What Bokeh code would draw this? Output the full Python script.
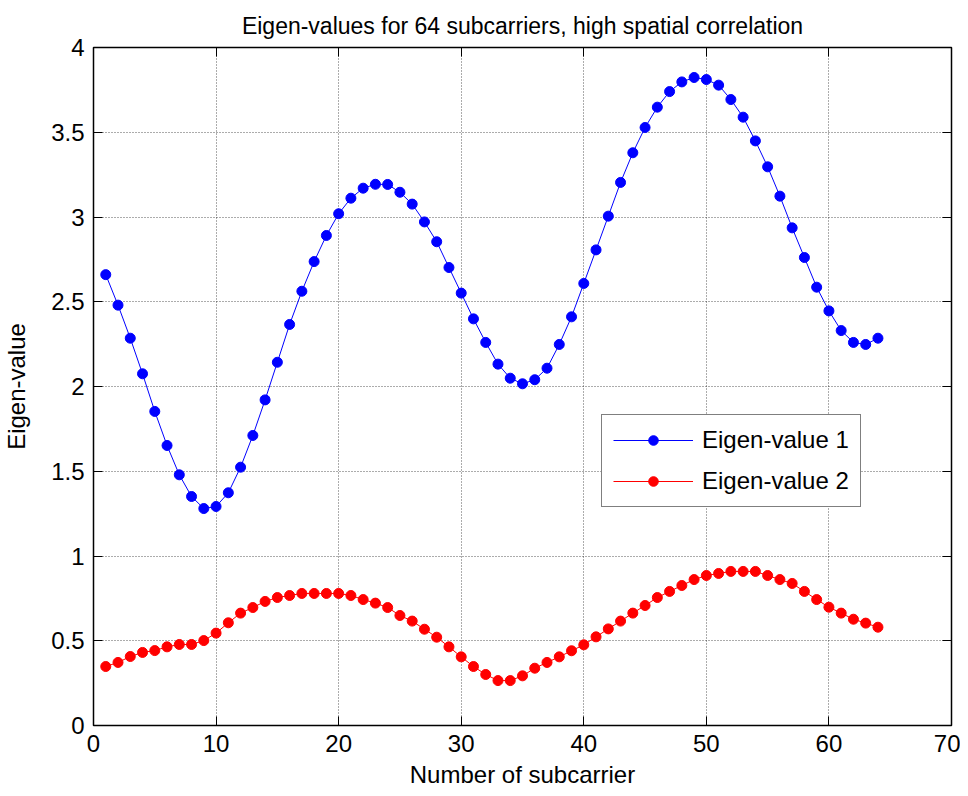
from bokeh.plotting import figure
from bokeh.models import FixedTicker, LinearAxis, Legend, LegendItem, Range1d, CustomJSTickFormatter
from bokeh.embed import file_html
from bokeh.resources import INLINE

subcarrier = list(range(1, 65))
eigen1 = [2.66, 2.48, 2.285, 2.075, 1.853, 1.652, 1.479, 1.351, 1.280, 1.292,
          1.373, 1.524, 1.711, 1.921, 2.143, 2.366, 2.562, 2.737, 2.891, 3.019,
          3.111, 3.170, 3.193, 3.192, 3.146, 3.076, 2.971, 2.854, 2.702, 2.551,
          2.399, 2.260, 2.132, 2.049, 2.016, 2.040, 2.108, 2.248, 2.411, 2.608,
          2.806, 3.005, 3.204, 3.379, 3.528, 3.648, 3.740, 3.797, 3.823, 3.811,
          3.778, 3.693, 3.589, 3.449, 3.296, 3.123, 2.936, 2.761, 2.586, 2.446,
          2.330, 2.260, 2.248, 2.285]
eigen2 = [0.348, 0.372, 0.407, 0.431, 0.442, 0.464, 0.478, 0.478, 0.501, 0.545,
          0.606, 0.663, 0.696, 0.732, 0.755, 0.767, 0.779, 0.779, 0.779, 0.779,
          0.767, 0.743, 0.722, 0.696, 0.649, 0.616, 0.568, 0.521, 0.464, 0.405,
          0.348, 0.301, 0.265, 0.265, 0.293, 0.338, 0.372, 0.405, 0.441, 0.476,
          0.523, 0.570, 0.616, 0.663, 0.708, 0.755, 0.791, 0.826, 0.861, 0.885,
          0.897, 0.909, 0.909, 0.909, 0.885, 0.861, 0.838, 0.791, 0.743, 0.698,
          0.663, 0.627, 0.604, 0.580]
x_ticks = [0, 10, 20, 30, 40, 50, 60, 70]
y_ticks = [0, 0.5, 1, 1.5, 2, 2.5, 3, 3.5, 4]
y_tick_labels = ["0", "0.5", "1", "1.5", "2", "2.5", "3", "3.5", "4"]

FONT = "Liberation Sans"

p = figure(width=960, height=790, output_backend="svg", toolbar_location=None,
           x_range=Range1d(0, 70), y_range=Range1d(0, 4),
           min_border_left=92, min_border_right=9, min_border_top=47, min_border_bottom=65,
           title="Eigen-values for 64 subcarriers, high spatial correlation")
p.title.align = "center"
p.title.text_font = FONT
p.title.text_font_size = "23px"
p.title.text_font_style = "normal"
p.title.text_color = "black"
p.title.standoff = 17

p.outline_line_color = "black"
p.outline_line_width = 1.5

for ax in [p.xaxis[0], p.yaxis[0]]:
    ax.major_label_text_font = FONT
    ax.major_label_text_font_size = "24px"
    ax.axis_label_text_font = FONT
    ax.axis_label_text_font_size = "24px"
    ax.axis_label_text_font_style = "normal"
    ax.axis_label_text_color = "black"
    ax.major_tick_in = 9
    ax.major_tick_out = 0
    ax.minor_tick_in = 0
    ax.minor_tick_out = 0
    ax.axis_line_color = "black"
    ax.major_label_text_color = "black"
    ax.major_label_standoff = 9

p.xaxis[0].ticker = FixedTicker(ticks=x_ticks)
p.yaxis[0].ticker = FixedTicker(ticks=y_ticks)
p.yaxis[0].major_label_overrides = {t: l for t, l in zip(y_ticks, y_tick_labels)}
p.xaxis[0].axis_label = "Number of subcarrier"
p.yaxis[0].axis_label = "Eigen-value"
p.xaxis[0].axis_label_standoff = 6
p.yaxis[0].axis_label_standoff = 18

blank = CustomJSTickFormatter(code="return '';")
for side in ["right", "above"]:
    ax = LinearAxis(ticker=FixedTicker(ticks=y_ticks if side == "right" else x_ticks),
                    formatter=blank,
                    major_tick_in=9, major_tick_out=0, minor_tick_in=0, minor_tick_out=0,
                    major_label_standoff=0, axis_line_color="black")
    p.add_layout(ax, side)

p.xgrid.ticker = FixedTicker(ticks=x_ticks)
p.ygrid.ticker = FixedTicker(ticks=y_ticks)
for g in [p.xgrid[0], p.ygrid[0]]:
    g.grid_line_color = "black"
    g.grid_line_alpha = 0.65
    g.grid_line_dash = "1 2"
    g.grid_line_width = 1

l1 = p.line(subcarrier, eigen1, line_color="blue", line_width=1)
s1 = p.scatter(subcarrier, eigen1, size=10, fill_color="blue", line_color="blue")
l2 = p.line(subcarrier, eigen2, line_color="red", line_width=1)
s2 = p.scatter(subcarrier, eigen2, size=10, fill_color="red", line_color="red")

legend = Legend(items=[LegendItem(label="Eigen-value 1", renderers=[l1, s1]),
                       LegendItem(label="Eigen-value 2", renderers=[l2, s2])],
                location=(508, 218), label_text_font=FONT, label_text_font_size="24px",
                label_text_color="black",
                glyph_width=80, glyph_height=24, label_standoff=9, spacing=13,
                padding=11, margin=0, border_line_color="black", border_line_width=1,
                background_fill_alpha=1.0)
p.add_layout(legend, "center")

open("out.html", "w").write(file_html(p, INLINE))
